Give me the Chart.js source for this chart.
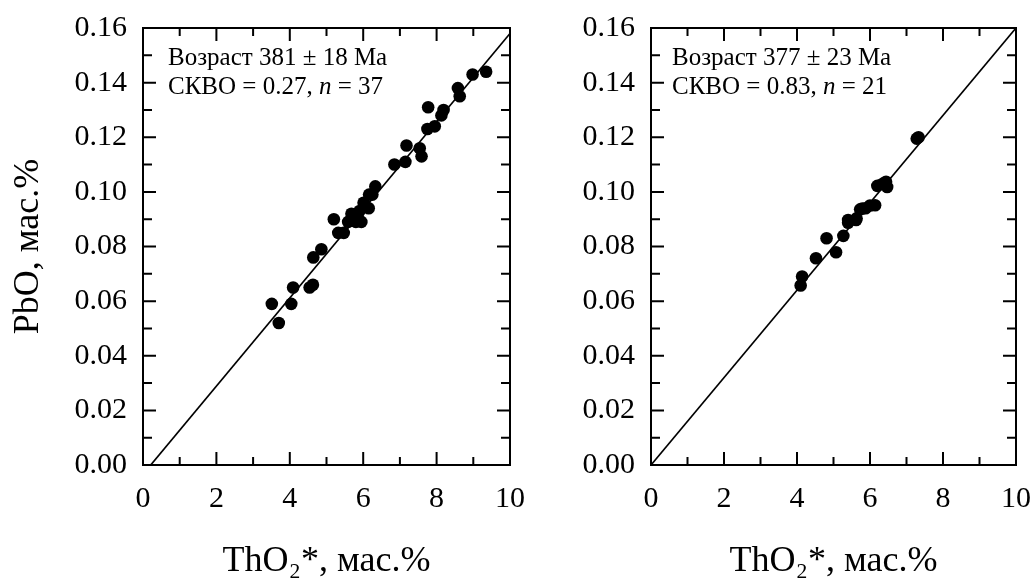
<!DOCTYPE html>
<html>
<head>
<meta charset="utf-8">
<script src="https://cdn.jsdelivr.net/npm/chart.js@4"></script>
<style>
  body { margin: 0; background: #fff; width: 1034px; height: 585px; position: relative; overflow: hidden; }
  canvas { position: absolute; top: 0; }
</style>
</head>
<body>
<canvas id="leftChart" width="542" height="585" style="left:0"></canvas>
<canvas id="rightChart" width="530" height="585" style="left:520px"></canvas>
<script>
// left panel: ThO2* vs PbO, n = 37
const leftThO2 = [3.51, 3.70, 4.04, 4.09, 4.54, 4.63, 4.64, 4.86, 5.20, 5.32, 5.47, 5.59, 5.68, 5.75, 5.80,
  5.90, 5.95, 6.01, 6.05, 6.15, 6.16, 6.25, 6.33, 6.85, 7.15, 7.18, 7.54, 7.59, 7.75, 7.77,
  7.95, 8.13, 8.19, 8.58, 8.63, 8.98, 9.35];
const leftPbO = [0.059, 0.052, 0.059, 0.065, 0.065, 0.066, 0.076, 0.079, 0.090, 0.085, 0.085, 0.089, 0.092, 0.091, 0.089,
  0.093, 0.089, 0.096, 0.095, 0.094, 0.099, 0.099, 0.102, 0.110, 0.111, 0.117, 0.116, 0.113, 0.123, 0.131,
  0.124, 0.128, 0.130, 0.138, 0.135, 0.143, 0.144];
const leftFitX = [0.21, 10];
const leftFitY = [0, 0.158];

// right panel, n = 21
const rightThO2 = [4.10, 4.14, 4.52, 4.81, 5.07, 5.27, 5.40, 5.40, 5.62, 5.63, 5.73, 5.79, 5.88, 6.00, 6.14,
  6.20, 6.35, 6.44, 6.47, 7.28, 7.33];
const rightPbO = [0.0657, 0.069, 0.0757, 0.083, 0.0779, 0.0839, 0.0887, 0.0897, 0.0897, 0.0903, 0.0936, 0.0939, 0.094, 0.095, 0.0951,
  0.1022, 0.103, 0.1037, 0.1018, 0.1195, 0.120];
const rightFitX = [0, 10];
const rightFitY = [0, 0.16];

// axes
const xLabelValues = [0, 2, 4, 6, 8, 10];
const yLabelValues = [0, 0.02, 0.04, 0.06, 0.08, 0.10, 0.12, 0.14, 0.16];
const xTickValues = [0, 1, 2, 3, 4, 5, 6, 7, 8, 9, 10];
const yTickValues = [0, 0.01, 0.02, 0.03, 0.04, 0.05, 0.06, 0.07, 0.08, 0.09, 0.10, 0.11, 0.12, 0.13, 0.14, 0.15, 0.16];

const xTitle = "ThO₂*, мас.%";
const yTitle = "PbO, мас.%";
const leftNote = [
  [{ t: "Возраст 381 ± 18 Ма" }],
  [{ t: "СКВО = 0.27, " }, { t: "n", i: true }, { t: " = 37" }]
];
const rightNote = [
  [{ t: "Возраст 377 ± 23 Ма" }],
  [{ t: "СКВО = 0.83, " }, { t: "n", i: true }, { t: " = 21" }]
];

const SERIF = "'Liberation Serif', 'Times New Roman', serif";

// frame on all four sides + inward ticks
const framePlugin = {
  id: "frame",
  afterDatasetsDraw(chart) {
    const { ctx, chartArea: a, scales: { x, y } } = chart;
    ctx.save();
    ctx.strokeStyle = "#000";
    ctx.lineWidth = 2;
    ctx.beginPath();
    xTickValues.forEach(v => {
      const px = x.getPixelForValue(v);
      const len = v % 2 === 0 ? 13 : 8;
      ctx.moveTo(px, a.bottom); ctx.lineTo(px, a.bottom - len);
      ctx.moveTo(px, a.top); ctx.lineTo(px, a.top + len);
    });
    yTickValues.forEach((v, i) => {
      const py = y.getPixelForValue(v);
      const len = i % 2 === 0 ? 13 : 9;
      ctx.moveTo(a.left, py); ctx.lineTo(a.left + len, py);
      ctx.moveTo(a.right, py); ctx.lineTo(a.right - len, py);
    });
    ctx.stroke();
    ctx.strokeRect(a.left, a.top, a.right - a.left, a.bottom - a.top);
    ctx.restore();
  }
};

// text block in the upper left corner
const notePlugin = {
  id: "note",
  afterDraw(chart, args, opts) {
    const { ctx, chartArea: a } = chart;
    ctx.save();
    ctx.fillStyle = "#000";
    ctx.textBaseline = "alphabetic";
    opts.lines.forEach((line, row) => {
      let px = a.left + opts.dx;
      const py = a.top + 37 + row * 29;
      line.forEach(seg => {
        ctx.font = (seg.i ? "italic " : "") + "25px " + SERIF;
        ctx.fillText(seg.t, px, py);
        px += ctx.measureText(seg.t).width;
      });
    });
    ctx.restore();
  }
};

function makeChart(id, xs, ys, fitX, fitY, note, noteDx, yWidth, padRight, showYTitle) {
  const ctx = document.getElementById(id).getContext("2d");
  return new Chart(ctx, {
    type: "scatter",
    data: {
      datasets: [
        {
          data: xs.map((v, i) => ({ x: v, y: ys[i] })),
          backgroundColor: "#000",
          borderWidth: 0,
          pointRadius: 6.3,
          pointHoverRadius: 6.3
        },
        {
          data: fitX.map((v, i) => ({ x: v, y: fitY[i] })),
          showLine: true,
          borderColor: "#000",
          borderWidth: 1.7,
          pointRadius: 0
        }
      ]
    },
    options: {
      responsive: false,
      animation: false,
      devicePixelRatio: 1,
      layout: { padding: { top: 28, right: padRight, left: 0, bottom: 0 } },
      plugins: {
        legend: { display: false },
        tooltip: { enabled: false },
        note: { lines: note, dx: noteDx }
      },
      scales: {
        x: {
          type: "linear",
          min: 0,
          max: 10,
          afterBuildTicks: s => { s.ticks = xLabelValues.map(v => ({ value: v })); },
          afterFit: s => { s.height = 120; },
          grid: { display: false, drawTicks: false },
          border: { display: false },
          ticks: {
            autoSkip: false,
            maxRotation: 0,
            padding: 16,
            color: "#000",
            font: { family: SERIF, size: 30 },
            callback: v => String(v)
          },
          title: {
            display: true,
            text: xTitle,
            color: "#000",
            font: { family: SERIF, size: 36 },
            padding: { top: 0, bottom: 2 }
          }
        },
        y: {
          type: "linear",
          min: 0,
          max: 0.16,
          afterBuildTicks: s => { s.ticks = yLabelValues.map(v => ({ value: v })); },
          afterFit: s => { s.width = yWidth; },
          grid: { display: false, drawTicks: false },
          border: { display: false },
          ticks: {
            padding: 16,
            color: "#000",
            font: { family: SERIF, size: 30, lineHeight: 0.7 },
            callback: v => Number(v).toFixed(2)
          },
          title: {
            display: showYTitle,
            text: yTitle,
            color: "#000",
            font: { family: SERIF, size: 36 },
            padding: { top: 7, bottom: 0 }
          }
        }
      }
    },
    plugins: [framePlugin, notePlugin]
  });
}

makeChart("leftChart", leftThO2, leftPbO, leftFitX, leftFitY, leftNote, 25, 143, 32, true);
makeChart("rightChart", rightThO2, rightPbO, rightFitX, rightFitY, rightNote, 21, 131, 34, false);
</script>
</body>
</html>
